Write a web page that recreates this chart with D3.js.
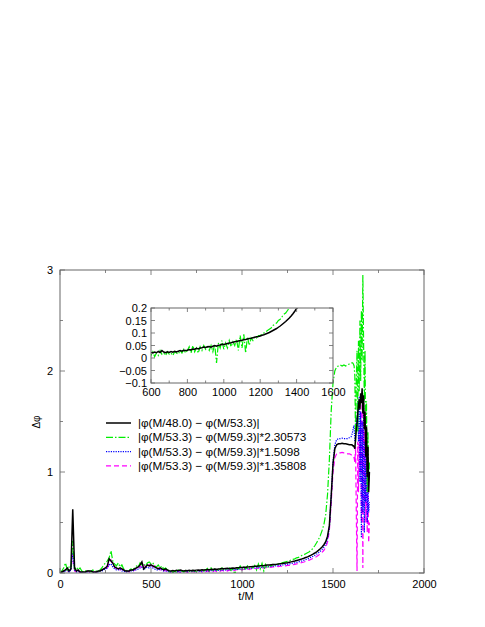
<!DOCTYPE html>
<html><head><meta charset="utf-8">
<script src="https://cdn.jsdelivr.net/npm/d3@7"></script>
<style>
body{margin:0;background:#fff;}
svg{display:block;font-family:"Liberation Sans",Arial,sans-serif;}
</style></head>
<body><svg id="c" width="485" height="627"></svg>
<script>
// ---- data ----
const seriesNames = [
  "|\u03C6(M/48.0) \u2212 \u03C6(M/53.3)|",
  "|\u03C6(M/53.3) \u2212 \u03C6(M/59.3)|*2.30573",
  "|\u03C6(M/53.3) \u2212 \u03C6(M/59.3)|*1.5098",
  "|\u03C6(M/53.3) \u2212 \u03C6(M/59.3)|*1.35808"
];
const tCoarse = d3.range(0, 1601, 10);   // sample times t/M, step 10
const tFine = d3.range(1604, 1701, 4);   // sample times t/M near merger, step 4

const black = [
0.00,0.01,0.02,0.03,0.05,0.02,0.04,0.63,0.05,0.02,
0.03,0.01,0.01,0.01,0.01,0.02,0.02,0.02,0.01,0.01,
0.01,0.02,0.02,0.03,0.04,0.05,0.07,0.14,0.12,0.10,
0.06,0.05,0.04,0.05,0.04,0.03,0.02,0.02,0.02,0.03,
0.03,0.04,0.05,0.06,0.08,0.11,0.04,0.06,0.08,0.07,
0.08,0.07,0.06,0.05,0.04,0.05,0.04,0.03,0.04,0.03,
0.022,0.020,0.024,0.021,0.026,0.022,0.030,0.024,0.021,0.025,
0.022,0.026,0.023,0.027,0.024,0.027,0.030,0.027,0.031,0.030,
0.031,0.034,0.032,0.036,0.035,0.039,0.036,0.040,0.041,0.044,
0.042,0.045,0.046,0.043,0.047,0.050,0.047,0.051,0.052,0.055,
0.054,0.056,0.058,0.060,0.061,0.063,0.065,0.066,0.068,0.070,
0.071,0.073,0.074,0.076,0.078,0.079,0.081,0.083,0.085,0.086,
0.088,0.091,0.093,0.096,0.099,0.102,0.106,0.110,0.114,0.118,
0.123,0.128,0.134,0.140,0.146,0.153,0.160,0.168,0.177,0.187,
0.198,0.210,0.224,0.240,0.258,0.280,0.310,0.365,0.470,0.760,
1.08,1.23,1.27,1.28,1.28,1.285,1.28,1.28,1.275,1.27,
1.27,
1.27,1.26,1.26,1.25,1.23,1.33,1.42,1.48,1.58,1.66,1.72,1.62,1.78,1.68,1.83,1.58,1.76,1.42,1.60,1.15,1.45,0.95,1.25,0.80,1.00
];
const green = [
0.00,0.02,0.05,0.10,0.03,0.06,0.05,0.32,0.04,0.06,
0.03,0.05,0.02,0.01,0.02,0.03,0.02,0.01,0.03,0.02,
0.02,0.01,0.03,0.05,0.08,0.10,0.12,0.15,0.22,0.12,
0.09,0.07,0.10,0.06,0.08,0.04,0.03,0.02,0.03,0.04,
0.03,0.05,0.07,0.06,0.10,0.08,0.09,0.07,0.10,0.11,
0.09,0.10,0.07,0.06,0.08,0.05,0.07,0.04,0.05,0.03,
0.010,0.025,0.005,0.020,0.010,0.030,0.015,0.020,0.010,0.025,
0.015,0.020,0.010,0.025,0.020,0.015,0.030,0.020,0.035,0.020,
0.030,0.045,0.020,0.050,0.025,0.040,0.020,0.045,0.030,0.050,
0.035,0.045,0.030,0.050,0.025,0.055,-0.020,0.060,0.040,0.070,
0.035,0.060,0.040,0.070,0.045,0.065,0.050,0.075,0.030,0.090,
0.040,0.095,0.020,0.085,0.050,0.080,0.070,0.085,0.080,0.090,
0.090,0.095,0.100,0.105,0.110,0.115,0.120,0.130,0.135,0.140,
0.150,0.155,0.165,0.175,0.180,0.190,0.200,0.210,0.225,0.245,
0.270,0.300,0.330,0.370,0.420,0.480,0.580,0.780,1.120,1.600,
1.88,2.00,2.04,2.05,2.06,2.05,2.06,2.05,2.06,2.07,
2.08,
2.08,2.08,2.07,2.05,1.95,1.30,1.90,2.20,1.40,2.30,1.80,2.50,1.90,2.60,2.10,2.95,2.30,1.70,2.20,1.20,1.70,0.80,1.40,0.90,1.10
];
const blue = [
0.00,0.01,0.01,0.02,0.03,0.01,0.03,0.20,0.03,0.01,
0.02,0.01,0.00,0.01,0.00,0.01,0.01,0.02,0.01,0.00,
0.01,0.01,0.02,0.02,0.03,0.04,0.05,0.08,0.09,0.06,
0.04,0.03,0.03,0.04,0.02,0.02,0.01,0.01,0.02,0.02,
0.02,0.03,0.03,0.04,0.05,0.06,0.03,0.05,0.06,0.05,
0.06,0.05,0.04,0.03,0.03,0.04,0.03,0.02,0.02,0.02,
0.010,0.012,0.010,0.013,0.011,0.014,0.012,0.015,0.013,0.015,
0.014,0.016,0.015,0.017,0.016,0.018,0.017,0.019,0.018,0.020,
0.020,0.022,0.021,0.023,0.023,0.025,0.024,0.026,0.027,0.028,
0.028,0.030,0.031,0.031,0.033,0.034,0.035,0.036,0.037,0.039,
0.040,0.041,0.043,0.044,0.046,0.047,0.049,0.050,0.052,0.054,
0.055,0.057,0.059,0.061,0.063,0.065,0.066,0.068,0.070,0.072,
0.074,0.076,0.079,0.081,0.084,0.087,0.090,0.093,0.097,0.101,
0.105,0.110,0.115,0.120,0.126,0.132,0.139,0.147,0.156,0.165,
0.175,0.187,0.200,0.215,0.233,0.255,0.285,0.340,0.450,0.750,
1.10,1.27,1.32,1.33,1.33,1.335,1.33,1.33,1.33,1.34,
1.35,
1.37,1.40,1.44,1.46,1.30,1.38,1.55,1.45,1.70,1.30,1.75,0.90,1.60,0.35,1.50,0.60,1.70,0.40,1.30,0.70,1.20,0.50,0.90,0.60,0.70
];
const magenta = [
0.00,0.01,0.02,0.03,0.02,0.02,0.04,0.18,0.02,0.01,
0.01,0.00,0.01,0.00,0.01,0.02,0.01,0.00,0.01,0.01,
0.01,0.01,0.02,0.03,0.04,0.06,0.05,0.10,0.13,0.08,
0.06,0.04,0.05,0.03,0.04,0.02,0.01,0.02,0.01,0.02,
0.02,0.03,0.05,0.04,0.07,0.05,0.08,0.06,0.09,0.07,
0.10,0.06,0.07,0.04,0.05,0.03,0.04,0.02,0.03,0.01,
0.005,0.012,0.004,0.013,0.006,0.015,0.005,0.014,0.007,0.016,
0.006,0.017,0.008,0.016,0.009,0.018,0.008,0.019,0.010,0.020,
0.011,0.021,0.012,0.023,0.013,0.024,0.015,0.026,0.016,0.027,
0.018,0.029,0.020,0.031,0.021,0.033,0.024,0.035,0.026,0.037,
0.029,0.039,0.031,0.042,0.034,0.044,0.038,0.047,0.040,0.050,
0.044,0.053,0.048,0.056,0.051,0.059,0.055,0.062,0.058,0.065,
0.063,0.068,0.067,0.072,0.071,0.076,0.076,0.081,0.082,0.086,
0.090,0.094,0.099,0.104,0.109,0.115,0.121,0.128,0.136,0.144,
0.153,0.163,0.175,0.189,0.205,0.225,0.255,0.305,0.420,0.690,
1.00,1.14,1.18,1.19,1.19,1.195,1.19,1.19,1.18,1.18,
1.17,
1.16,1.16,1.15,1.14,1.10,1.25,0.60,0.02,1.30,0.80,1.45,1.00,1.60,0.50,1.80,0.05,1.50,0.70,1.40,0.50,1.20,0.40,0.90,0.30,0.50
];
const mainXTicks = [0, 500, 1000, 1500, 2000];
const mainYTicks = [0, 1, 2, 3];
const insetXTicks = [600, 800, 1000, 1200, 1400, 1600];
const insetYTicks = [0.2, 0.15, 0.1, 0.05, 0, -0.05, -0.1];
const insetYLabels = ["0.2","0.15","0.1","0.05","0","\u22120.05","\u22120.1"];

// ---- chart ----
const tAll = tCoarse.concat(tFine);
const svg = d3.select("#c");
const colors = ["#000000", "#00ee00", "#0000ff", "#ff00ff"];
const dashes = [null, "7,2,1.5,2", "1.2,1.2", "5,3"];
const widths = [1.5, 1.2, 1.2, 1.2];
const data = [black, green, blue, magenta];
const frameColor = "#666";

function drawFrame(g, x, y, xMajor, xMinor, yMajor, yMinor, majLen, minLen) {
  const [x0, x1] = x.range(), [y0, y1] = y.range();
  const tickG = g.append("g").attr("stroke", frameColor).attr("stroke-width", 0.8);
  xMajor.forEach(v => {
    tickG.append("line").attr("x1", x(v)).attr("x2", x(v)).attr("y1", y0).attr("y2", y0 - majLen);
    tickG.append("line").attr("x1", x(v)).attr("x2", x(v)).attr("y1", y1).attr("y2", y1 + majLen);
  });
  xMinor.forEach(v => {
    tickG.append("line").attr("x1", x(v)).attr("x2", x(v)).attr("y1", y0).attr("y2", y0 - minLen);
    tickG.append("line").attr("x1", x(v)).attr("x2", x(v)).attr("y1", y1).attr("y2", y1 + minLen);
  });
  yMajor.forEach(v => {
    tickG.append("line").attr("x1", x0).attr("x2", x0 + majLen).attr("y1", y(v)).attr("y2", y(v));
    tickG.append("line").attr("x1", x1).attr("x2", x1 - majLen).attr("y1", y(v)).attr("y2", y(v));
  });
  yMinor.forEach(v => {
    tickG.append("line").attr("x1", x0).attr("x2", x0 + minLen).attr("y1", y(v)).attr("y2", y(v));
    tickG.append("line").attr("x1", x1).attr("x2", x1 - minLen).attr("y1", y(v)).attr("y2", y(v));
  });
  g.append("rect").attr("x", x0).attr("y", y1).attr("width", x1 - x0).attr("height", y0 - y1)
    .attr("fill", "none").attr("stroke", frameColor).attr("stroke-width", 1);
}

// main scales
const x = d3.scaleLinear().domain([0, 2000]).range([60, 424]);
const y = d3.scaleLinear().domain([0, 3]).range([573, 270]);

svg.append("clipPath").attr("id", "mainClip").append("rect")
  .attr("x", 60).attr("y", 270).attr("width", 364).attr("height", 303);

const line = d3.line().x(d => x(d[0])).y(d => y(d[1]));
const plotG = svg.append("g").attr("clip-path", "url(#mainClip)");
[3, 2, 1, 0].forEach(i => {
  plotG.append("path")
    .datum(tAll.map((t, k) => [t, data[i][k]]))
    .attr("d", line).attr("fill", "none")
    .attr("stroke", colors[i]).attr("stroke-width", widths[i])
    .attr("stroke-dasharray", dashes[i]);
});

drawFrame(svg.append("g"), x, y, mainXTicks, [250, 750, 1250, 1750], mainYTicks, [0.5, 1.5, 2.5], 5, 3);

// main axes labels via d3 axes (labels only)
const xAxis = d3.axisBottom(x).tickValues(mainXTicks).tickSize(0).tickPadding(7).tickFormat(d3.format("d"));
const gx = svg.append("g").attr("transform", "translate(0,573)").call(xAxis);
const yAxis = d3.axisLeft(y).tickValues(mainYTicks).tickSize(0).tickPadding(7).tickFormat(d3.format("d"));
const gy = svg.append("g").attr("transform", "translate(60,0)").call(yAxis);
[gx, gy].forEach(g => {
  g.select(".domain").remove();
  g.selectAll("text").attr("font-size", 11).attr("font-family", "Liberation Sans, Arial, sans-serif").attr("fill", "#000");
});

svg.append("text").attr("x", 246).attr("y", 600).attr("text-anchor", "middle")
  .attr("font-size", 11).text("t/M");
svg.append("text").attr("transform", "translate(40,422) rotate(-90)").attr("text-anchor", "middle")
  .attr("font-size", 10).text("\u0394\u03C6");

// legend
const legG = svg.append("g");
seriesNames.forEach((name, i) => {
  const yy = 423 + i * 14.3;
  legG.append("line").attr("x1", 106).attr("x2", 131).attr("y1", yy).attr("y2", yy)
    .attr("stroke", colors[i]).attr("stroke-width", widths[i]).attr("stroke-dasharray", dashes[i]);
  legG.append("text").attr("x", 138).attr("y", yy + 4).attr("font-size", 11.7).attr("fill", "#000").text(name);
});

// inset
const xi = d3.scaleLinear().domain([600, 1600]).range([151, 333]);
const yi = d3.scaleLinear().domain([-0.1, 0.2]).range([383, 308]);
svg.append("rect").attr("x", 151).attr("y", 308).attr("width", 182).attr("height", 75).attr("fill", "#fff");
svg.append("clipPath").attr("id", "insetClip").append("rect")
  .attr("x", 151).attr("y", 308).attr("width", 182).attr("height", 75);
const lineI = d3.line().x(d => xi(d[0])).y(d => yi(d[1]));
const insetG = svg.append("g").attr("clip-path", "url(#insetClip)");
[1, 0].forEach(i => {
  const pts = tAll.map((t, k) => [t, data[i][k]]).filter(d => d[0] >= 590 && d[0] <= 1500);
  insetG.append("path").datum(pts).attr("d", lineI).attr("fill", "none")
    .attr("stroke", colors[i]).attr("stroke-width", i === 0 ? 1.5 : 1.2)
    .attr("stroke-dasharray", dashes[i]);
});
drawFrame(svg.append("g"), xi, yi, insetXTicks, [700, 900, 1100, 1300, 1500], insetYTicks, [], 4, 2.5);

const xiAxis = d3.axisBottom(xi).tickValues(insetXTicks).tickSize(0).tickPadding(5).tickFormat(d3.format("d"));
const gxi = svg.append("g").attr("transform", "translate(0,383)").call(xiAxis);
const yiAxis = d3.axisLeft(yi).tickValues(insetYTicks).tickSize(0).tickPadding(4)
  .tickFormat((d, i) => insetYLabels[i]);
const gyi = svg.append("g").attr("transform", "translate(151,0)").call(yiAxis);
[gxi, gyi].forEach(g => {
  g.select(".domain").remove();
  g.selectAll("text").attr("font-size", 11).attr("font-family", "Liberation Sans, Arial, sans-serif").attr("fill", "#000");
});
</script></body></html>
